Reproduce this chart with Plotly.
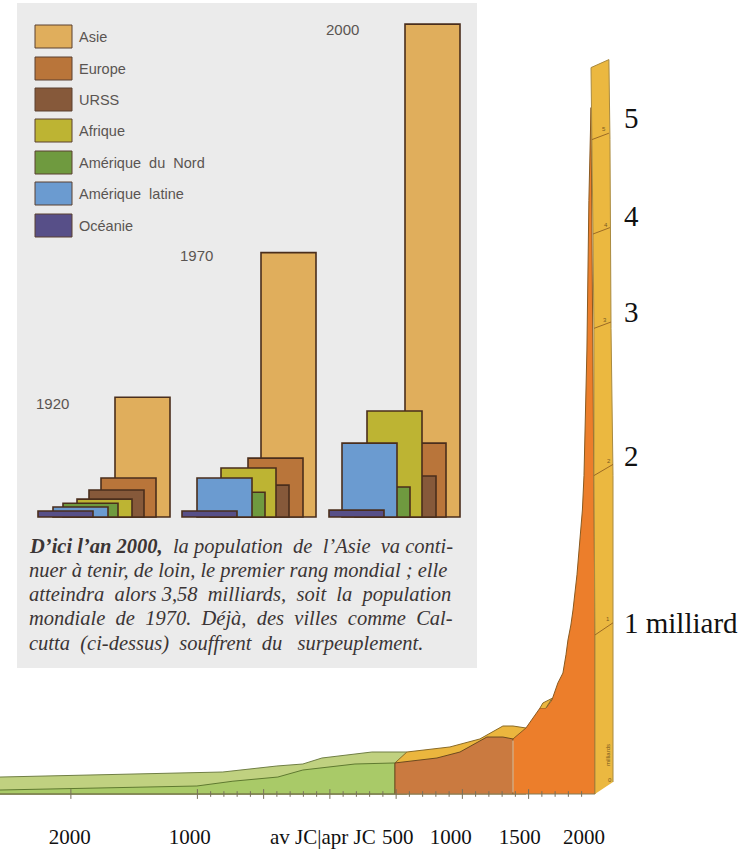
import plotly.graph_objects as go

# ---- Inset bars: population (milliards) by continent, three dates
continents = ["Asie", "Europe", "URSS", "Afrique", "Amérique du Nord", "Amérique latine", "Océanie"]
colors = ["#e0ae5c", "#b9753a", "#86593a", "#bdb433", "#6f9a3f", "#6b9bd0", "#574f88"]
dates = ["1920", "1970", "2000"]
pop_1920 = [0.87, 0.283, 0.196, 0.13, 0.10, 0.073, 0.044]
pop_1970 = [1.92, 0.428, 0.232, 0.356, 0.18, 0.283, 0.044]
pop_2000 = [3.58, 0.537, 0.298, 0.77, 0.218, 0.537, 0.05]
left_1920 = [115, 101, 89, 77, 63, 53, 38]
left_1970 = [261, 248, 234, 221, 210, 197, 182]
left_2000 = [405, 391, 381, 367, 355, 342, 329]
bar_width = 55

# ---- Main curve: year, height (milliards at the foot of the scale)
green_top_years = [-2490, -1487, -808, -400, -204, -60, 317, 581]
green_top_vals = [0.106, 0.125, 0.1375, 0.175, 0.1875, 0.225, 0.2625, 0.2625]
green_low_years = [-2490, -1004, -732, -393, -204, 189, 491]
green_low_vals = [0.025, 0.05, 0.08, 0.106, 0.15, 0.1875, 0.194]
yellow_years = [491, 581, 906, 1132, 1306, 1382, 1480, 1480, 491]
yellow_vals = [0.194, 0.2625, 0.294, 0.344, 0.425, 0.425, 0.4125, 0, 0]
brown_years = [491, 491, 808, 982, 1185, 1306, 1382, 1382]
brown_vals = [0, 0.194, 0.225, 0.2625, 0.356, 0.356, 0.344, 0]
orange_years = [1382, 1382, 1480, 1586, 1631, 1676, 1721, 1759, 1782, 1797, 1819, 1835, 1865, 1888, 1906, 1918, 1929, 1940, 1955, 1971, 2001, 2001]
orange_vals = [0, 0.344, 0.4125, 0.5375, 0.5375, 0.5875, 0.694, 0.756, 0.87, 0.9625, 1.056, 1.15, 1.37, 1.6, 1.775, 1.99, 2.34, 2.775, 3.71, 4.29, 1.0, 0]
step_years = [1586, 1608, 1676, 1631]
step_vals = [0.5375, 0.569, 0.5975, 0.5375]
panel_years = [2001, 2001, 1993, 1993, 1986, 1978, 1971, 2106, 2114, 2122, 2137, 2137]
panel_vals = [0, 0.994, 1.99, 2.91, 3.5, 4.09, 4.54, 4.59, 4.09, 2.91, 1.99, 0.075]
scale_left_years = [2001, 1993, 1993, 1986, 1978]
scale_left_vals = [0.994, 1.99, 2.91, 3.5, 4.09]
scale_right_years = [2137, 2137, 2122, 2114, 2106]
scale_right_vals = [1.07, 2.06, 2.95, 3.54, 4.13]
baseline_years = [-2490, 2001]
baseline_vals = [0, 0]

major_ticks = [-1955, -1000, -500, 0, 500, 1000, 1500]
minor_ticks = [-900, -800, -700, -600, -400, -300, -200, -100, 100, 200, 300, 400,
               600, 700, 800, 900, 1100, 1200, 1300, 1400, 1600, 1700, 1800, 1900]
x_label_pos = [-1963, -1057, -53, 513, 913, 1434, 1918]
x_labels = ["2000", "1000", "av JC|apr JC", "500", "1000", "1500", "2000"]
y_label_pos = [1.069, 2.1125, 3.0125, 3.6125, 4.225]
y_labels = ["1 milliard", "2", "3", "4", "5"]

N = "\u00a0"
caption = [
    f"<b>D’ici l’an 2000,</b>{N}{N}la population{N} de{N} l’Asie{N} va conti-",
    "nuer à tenir, de loin, le premier rang mondial ; elle",
    f"atteindra{N} alors 3,58{N} milliards,{N} soit{N} la{N} population",
    f"mondiale{N} de{N} 1970.{N} Déjà,{N} des{N} villes{N} comme{N} Cal-",
    f"cutta{N} (ci-dessus){N} souffrent{N} du{N}{N} surpeuplement.",
]

W, H = 739, 849
fig = go.Figure()


def poly(xs, ys, fill, line="rgba(0,0,0,0)", lw=1):
    fig.add_trace(go.Scatter(x=xs, y=ys, mode="lines", fill="toself", fillcolor=fill,
                             line=dict(color=line, width=lw), hoverinfo="skip", showlegend=False))


poly(green_top_years + green_top_years[-1:] + [-2490], green_top_vals + [0, 0], "#c0d180", "#707f45")
poly(green_low_years + [491, -2490], green_low_vals + [0, 0], "#a9ca68", "#5f7a30")
poly(yellow_years, yellow_vals, "#ebb63e", "#8a6a25")
poly(brown_years, brown_vals, "#ca7a40", "#6e4a20")
poly(orange_years, orange_vals, "#ec7e2b", "#8a5a20")
poly(step_years, step_vals, "#ebb63e", "#8a6a25")
poly(panel_years, panel_vals, "#ebb840", "#a98a40")

# light seam between brown and orange fronts
fig.add_trace(go.Scatter(x=[1382, 1382], y=[0.01, 0.335], mode="lines",
                         line=dict(color="#f3c39a", width=1.2), hoverinfo="skip", showlegend=False))
for a, b, c, d in zip(scale_left_years, scale_right_years, scale_left_vals, scale_right_vals):
    fig.add_trace(go.Scatter(x=[a, b], y=[c, d], mode="lines", line=dict(color="#9b6a25", width=1),
                             hoverinfo="skip", showlegend=False))
fig.add_trace(go.Scatter(x=baseline_years, y=baseline_vals, mode="lines",
                         line=dict(color="#857b55", width=1), hoverinfo="skip", showlegend=False))
fig.add_trace(go.Scatter(x=major_ticks, y=[0] * len(major_ticks), mode="markers",
                         marker=dict(symbol="line-ns", size=7, line=dict(width=1, color="#77705a")),
                         hoverinfo="skip", showlegend=False))
fig.add_trace(go.Scatter(x=minor_ticks, y=[0] * len(minor_ticks), mode="markers",
                         marker=dict(symbol="line-ns", size=4, line=dict(width=1, color="#77705a")),
                         hoverinfo="skip", showlegend=False))

# inset bars
for pops, lefts in ((pop_1920, left_1920), (pop_1970, left_1970), (pop_2000, left_2000)):
    for name, col, v, l in zip(continents, colors, pops, lefts):
        fig.add_trace(go.Bar(x=[l + bar_width / 2], y=[v], width=[bar_width], name=name,
                             marker=dict(color=col, line=dict(color="#4a2e1c", width=1.6)),
                             xaxis="x2", yaxis="y2", showlegend=False, hoverinfo="skip"))

shapes = [dict(type="rect", xref="paper", yref="paper", layer="below", x0=17 / W, x1=477 / W,
               y0=1 - 668 / H, y1=1 - 3 / H, fillcolor="#ebebeb", line_width=0)]
ann = []


def note(px, py, text, size, color, family="Liberation Sans", anchor="left", angle=0):
    ann.append(dict(xref="paper", yref="paper", x=px / W, y=1 - py / H, text=text, showarrow=False,
                    xanchor=anchor, yanchor="middle", textangle=angle,
                    font=dict(family=family, size=size, color=color)))


legend_tops = [25, 57, 88, 119, 151, 182, 214]
for name, col, t in zip(continents, colors, legend_tops):
    shapes.append(dict(type="rect", xref="paper", yref="paper", x0=35 / W, x1=72 / W,
                       y0=1 - (t + 23) / H, y1=1 - t / H, fillcolor=col,
                       line=dict(color="#5a4030", width=1), layer="below"))
    note(77, t + 12, name.replace(" ", N + " "), 14.5, "#5a5552")

note(324, 29, dates[2], 15, "#5a5552")
note(178, 256, dates[1], 15, "#5a5552")
note(34, 403, dates[0], 15, "#5a5552")

for py, line in zip([546, 570, 594, 618, 643], caption):
    note(27, py, "<i>" + line + "</i>", 20.5, "#3b3535", family="Liberation Serif")

for txt, px, py in [("1", 608, 619), ("2", 609, 461), ("3", 605, 320), ("4", 606, 225), ("5", 604, 129)]:
    note(px, py, txt, 6, "#7a5a20", anchor="center")
note(608, 755, "milliards", 6, "#7a5a20", anchor="center", angle=-90)
note(610, 780, "0", 6, "#7a5a20", anchor="center")

fig.update_layout(
    width=W, height=H, margin=dict(l=0, r=0, t=0, b=0, pad=0, autoexpand=False),
    paper_bgcolor="white", plot_bgcolor="rgba(0,0,0,0)",
    barmode="overlay", showlegend=False, shapes=shapes, annotations=ann,
    xaxis=dict(range=[-2490, 3088], domain=[0, 1], anchor="free", position=55 / H, showgrid=False,
               zeroline=False, showline=False, automargin=False,
               tickmode="array", tickvals=x_label_pos, ticktext=x_labels, ticks="",
               tickfont=dict(family="Liberation Serif", size=21, color="#111"), ticklabelstandoff=28),
    yaxis=dict(range=[-0.34375, 4.9625], domain=[0, 1], anchor="free", position=623 / W, side="right",
               showgrid=False, zeroline=False, showline=False, automargin=False,
               tickmode="array", tickvals=y_label_pos, ticktext=y_labels, ticks="",
               tickfont=dict(family="Liberation Serif", size=29, color="#111")),
    xaxis2=dict(range=[0, W], domain=[0, 1], anchor="y2", visible=False),
    yaxis2=dict(range=[-2.411, 3.755], domain=[0, 1], anchor="x2", visible=False),
)

fig.write_html("out.html", config={"displayModeBar": False},
               post_script="document.body.style.margin='0';")
